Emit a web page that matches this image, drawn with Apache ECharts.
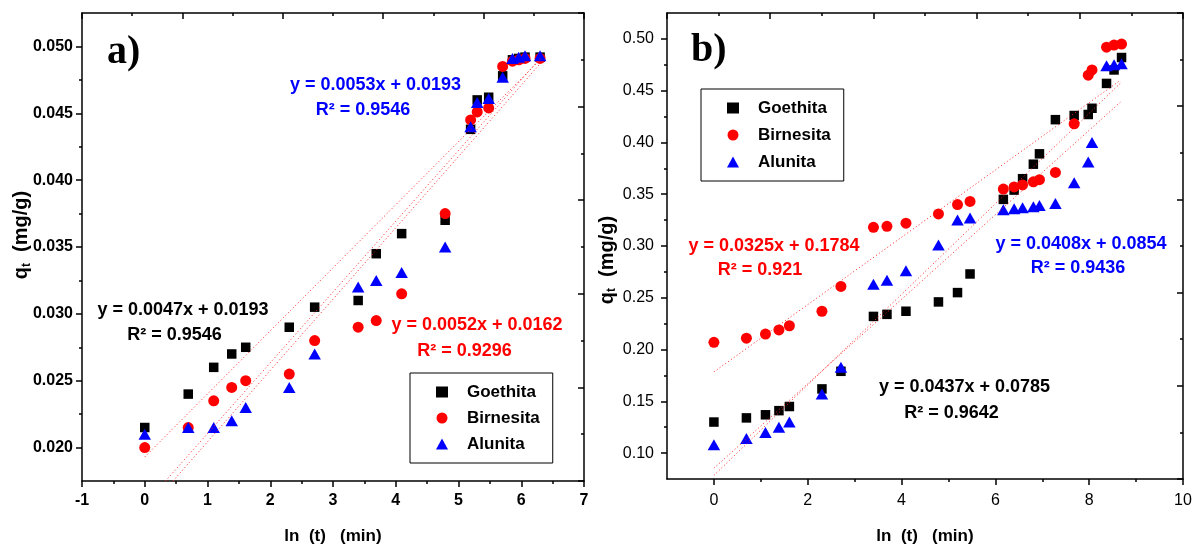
<!DOCTYPE html>
<html><head><meta charset="utf-8">
<script src="https://cdn.jsdelivr.net/npm/echarts@6/dist/echarts.min.js"></script>
<style>html,body{margin:0;padding:0;background:#fff}#c{width:1196px;height:550px}</style>
</head><body><div id="c"></div>
<script>
// ---------- data: panel a ----------
const xA = [0, 0.693, 1.099, 1.386, 1.609, 2.303, 2.708, 3.401, 3.689, 4.094, 4.787, 5.193, 5.298, 5.481, 5.704, 5.86, 5.96, 6.06, 6.30];
const goethitaA  = [0.0215, 0.0240, 0.0260, 0.0270, 0.0275, 0.0290, 0.0305, 0.0310, 0.0345, 0.0360, 0.0370, 0.0438, 0.0460, 0.0462, 0.0478, 0.0490, 0.0491, 0.0492, 0.0492];
const birnesitaA = [0.0200, 0.0215, 0.0235, 0.0245, 0.0250, 0.0255, 0.0280, 0.0290, 0.0295, 0.0315, 0.0375, 0.0445, 0.0451, 0.0454, 0.0485, 0.0489, 0.0490, 0.0491, 0.0491];
const alunitaA   = [0.0210, 0.0215, 0.0215, 0.0220, 0.0230, 0.0245, 0.0270, 0.0320, 0.0325, 0.0331, 0.0350, 0.0440, 0.0458, 0.0461, 0.0477, 0.0491, 0.0492, 0.0493, 0.0493];
const fitA1 = [[0, 0.0193], [6.3, 0.0490]];
const fitA2 = [[0.33, 0.0175], [6.3, 0.0491]];
const fitA3 = [[0.45, 0.0175], [6.3, 0.0487]];
const yTicksA = [0.020, 0.025, 0.030, 0.035, 0.040, 0.045, 0.050];
const yMinorA = [0.0225, 0.0275, 0.0325, 0.0375, 0.0425, 0.0475];

// ---------- data: panel b ----------
const xB = [0, 0.693, 1.099, 1.386, 1.609, 2.303, 2.708, 3.401, 3.689, 4.094, 4.787, 5.193, 5.46, 6.17, 6.40, 6.58, 6.81, 6.94, 7.28, 7.68, 7.98, 8.06, 8.37, 8.53, 8.69];
const goethitaB  = [0.130, 0.134, 0.137, 0.141, 0.145, 0.162, 0.179, 0.232, 0.234, 0.237, 0.246, 0.255, 0.273, 0.345, 0.354, 0.365, 0.379, 0.389, 0.422, 0.426, 0.427, 0.433, 0.457, 0.470, 0.482];
const birnesitaB = [0.207, 0.211, 0.215, 0.219, 0.223, 0.237, 0.261, 0.318, 0.319, 0.322, 0.331, 0.340, 0.343, 0.355, 0.357, 0.359, 0.362, 0.364, 0.371, 0.418, 0.465, 0.470, 0.492, 0.494, 0.495];
const alunitaB   = [0.108, 0.114, 0.120, 0.125, 0.130, 0.157, 0.183, 0.263, 0.267, 0.276, 0.301, 0.325, 0.327, 0.335, 0.336, 0.337, 0.338, 0.339, 0.341, 0.361, 0.381, 0.400, 0.474, 0.475, 0.476];
const fitB1 = [[0, 0.1784], [8.67, 0.4602]];
const fitB2 = [[0, 0.0854], [8.67, 0.4391]];
const fitB3 = [[0, 0.0785], [8.67, 0.4574]];
const xTicksB = [0, 2, 4, 6, 8, 10];
const xMinorB = [1, 3, 5, 7, 9];
const yTicksB = [0.10, 0.15, 0.20, 0.25, 0.30, 0.35, 0.40, 0.45, 0.50];
const yMinorB = [0.125, 0.175, 0.225, 0.275, 0.325, 0.375, 0.425, 0.475];

const names = ['Goethita', 'Birnesita', 'Alunita'];
const xTitle = 'ln  (t)   (min)';

// ---------- helpers ----------
const FONT = 'Arial, "Liberation Sans", Helvetica, sans-serif';
const pts = (xs, ys) => xs.map((x, i) => [x, ys[i]]);
const LS = {color: '#000', width: 1.5};
const line = {show: true, onZero: false, lineStyle: LS};

function labelStyle(bold, size) {
  return {color: '#000', fontFamily: FONT, fontWeight: bold ? 'bold' : 'normal', fontSize: size};
}
function mirrorX(grid) {
  return {type: 'value', gridIndex: grid, position: 'top', min: 0, max: 10, interval: 2,
    axisLine: line, axisTick: {show: true, inside: true, length: 6, lineStyle: LS},
    minorTick: {show: true, splitNumber: 2, length: 3, lineStyle: LS},
    axisLabel: {show: false}, splitLine: {show: false}};
}
function mirrorY(grid) {
  return {type: 'value', gridIndex: grid, position: 'right', min: 0, max: 10, interval: 2,
    axisLine: line, axisTick: {show: true, inside: true, length: 6, lineStyle: LS},
    minorTick: {show: true, splitNumber: 2, length: 3, lineStyle: LS},
    axisLabel: {show: false}, splitLine: {show: false}};
}
function minorAxis(grid, pos, min, max, vals) {
  return {type: 'value', gridIndex: grid, position: pos, min: min, max: max,
    axisLine: {show: false, onZero: false}, axisTick: {show: true, length: 3, lineStyle: LS, customValues: vals},
    axisLabel: {show: false}, splitLine: {show: false}};
}

const scatterStyle = [
  {symbol: 'rect', symbolSize: 9.5, color: '#000000'},
  {symbol: 'circle', symbolSize: 11, color: '#ff0000'},
  {symbol: 'triangle', symbolSize: [12.5, 11], color: '#0000ff'}
];
function scat(i, xi, yi, data) {
  const s = scatterStyle[i];
  return {name: names[i], type: 'scatter', xAxisIndex: xi, yAxisIndex: yi, data: data,
    symbol: s.symbol, symbolSize: s.symbolSize, symbolKeepAspect: true,
    itemStyle: {color: s.color, opacity: 1}, silent: true};
}
function fit(xi, yi, data) {
  return {type: 'line', xAxisIndex: xi, yAxisIndex: yi, data: data, symbol: 'none', silent: true,
    lineStyle: {color: '#ff2020', width: 1, type: [1, 2.5]}, z: 3};
}
function txt(x, y, s, color, size) {
  return {type: 'text', x: x, y: y, silent: true,
    style: {text: s, fill: color, font: 'bold ' + size + 'px ' + FONT, align: 'center', verticalAlign: 'middle'}};
}
function yTitle(x, y) {
  return {type: 'text', x: x, y: y, rotation: Math.PI / 2, silent: true,
    style: {text: '{q|q}{s|t}{m|  (mg/g)}', align: 'center', verticalAlign: 'middle',
      rich: {
        q: {fontSize: 20, fontWeight: 'bold', fontFamily: FONT, fill: '#000', lineHeight: 22},
        s: {fontSize: 12, fontWeight: 'bold', fontFamily: FONT, fill: '#000', lineHeight: 14, verticalAlign: 'bottom'},
        m: {fontSize: 20, fontWeight: 'bold', fontFamily: FONT, fill: '#000', lineHeight: 22}
      }}};
}
function legendAt(left, top, gap) {
  return {data: names, orient: 'vertical', left: left, top: top, itemWidth: 12, itemHeight: 11, itemGap: gap,
    symbolKeepAspect: true, padding: [9, 13, 9, 26], borderColor: '#000', borderWidth: 1, selectedMode: false,
    textStyle: Object.assign({lineHeight: 20, padding: [0, 0, 0, 14]}, labelStyle(true, 17))};
}

const chart = echarts.init(document.getElementById('c'), null, {renderer: 'canvas'});
chart.setOption({
  backgroundColor: '#ffffff',
  animation: false,
  grid: [
    {left: 82, top: 13, width: 502, height: 468},
    {left: 667, top: 13, width: 516, height: 468}
  ],
  xAxis: [
    { // 0: panel a bottom
      type: 'value', gridIndex: 0, position: 'bottom', min: -1, max: 7, interval: 1,
      axisLine: line, axisTick: {show: true, length: 6, lineStyle: LS},
      minorTick: {show: true, splitNumber: 2, length: 3, lineStyle: LS},
      axisLabel: Object.assign({margin: 12, formatter: v => String(v)}, labelStyle(true, 16)),
      splitLine: {show: false},
      name: xTitle, nameLocation: 'middle', nameGap: 47, nameTextStyle: labelStyle(true, 17)
    },
    mirrorX(0), // 1
    { // 2: panel b bottom
      type: 'value', gridIndex: 1, position: 'bottom', min: -1, max: 10,
      axisLine: line, axisTick: {show: true, length: 6, lineStyle: LS, customValues: xTicksB},
      axisLabel: Object.assign({margin: 14, customValues: xTicksB, formatter: v => String(v)}, labelStyle(false, 16)),
      splitLine: {show: false},
      name: xTitle, nameLocation: 'middle', nameGap: 49, nameTextStyle: labelStyle(true, 17)
    },
    mirrorX(1), // 3
    minorAxis(1, 'bottom', -1, 10, xMinorB) // 4
  ],
  yAxis: [
    { // 0: panel a left
      type: 'value', gridIndex: 0, position: 'left', min: 0.0175, max: 0.0525,
      axisLine: line, axisTick: {show: true, length: 6, lineStyle: LS, customValues: yTicksA},
      axisLabel: Object.assign({margin: 9, customValues: yTicksA, formatter: v => v.toFixed(3)}, labelStyle(true, 16)),
      splitLine: {show: false}
    },
    mirrorY(0), // 1
    minorAxis(0, 'left', 0.0175, 0.0525, yMinorA), // 2
    { // 3: panel b left
      type: 'value', gridIndex: 1, position: 'left', min: 0.075, max: 0.525,
      axisLine: line, axisTick: {show: true, length: 6, lineStyle: LS, customValues: yTicksB},
      axisLabel: Object.assign({margin: 13, customValues: yTicksB, formatter: v => v.toFixed(2)}, labelStyle(false, 16)),
      splitLine: {show: false}
    },
    mirrorY(1), // 4
    minorAxis(1, 'left', 0.075, 0.525, yMinorB) // 5
  ],
  legend: [legendAt(410, 373, 6), legendAt(701, 89, 7)],
  series: [
    scat(0, 0, 0, pts(xA, goethitaA)),
    scat(1, 0, 0, pts(xA, birnesitaA)),
    scat(2, 0, 0, pts(xA, alunitaA)),
    fit(0, 0, fitA1), fit(0, 0, fitA2), fit(0, 0, fitA3),
    scat(0, 2, 3, pts(xB, goethitaB)),
    scat(1, 2, 3, pts(xB, birnesitaB)),
    scat(2, 2, 3, pts(xB, alunitaB)),
    fit(2, 3, fitB1), fit(2, 3, fitB2), fit(2, 3, fitB3)
  ],
  graphic: [
    {type: 'text', x: 107, y: 53, silent: true, style: {text: 'a)', fill: '#000', font: 'bold 40px "Liberation Serif", "Times New Roman", serif', align: 'left', verticalAlign: 'middle'}},
    {type: 'text', x: 691, y: 51, silent: true, style: {text: 'b)', fill: '#000', font: 'bold 40px "Liberation Serif", "Times New Roman", serif', align: 'left', verticalAlign: 'middle'}},
    yTitle(21.5, 235),
    yTitle(607, 260),
    txt(375.5, 85, 'y = 0.0053x + 0.0193', '#0000ff', 18),
    txt(363, 110, 'R² = 0.9546', '#0000ff', 18),
    txt(183, 310, 'y = 0.0047x + 0.0193', '#000000', 18),
    txt(174.5, 335, 'R² = 0.9546', '#000000', 18),
    txt(477, 325, 'y = 0.0052x + 0.0162', '#ff0000', 18),
    txt(464.5, 351, 'R² = 0.9296', '#ff0000', 18),
    txt(774, 246, 'y = 0.0325x + 0.1784', '#ff0000', 18),
    txt(760, 270.5, 'R² = 0.921', '#ff0000', 18),
    txt(1081, 243.7, 'y = 0.0408x + 0.0854', '#0000ff', 18),
    txt(1078, 268.5, 'R² = 0.9436', '#0000ff', 18),
    txt(964.5, 387, 'y = 0.0437x + 0.0785', '#000000', 18),
    txt(951.5, 413, 'R² = 0.9642', '#000000', 18)
  ]
});
</script></body></html>
